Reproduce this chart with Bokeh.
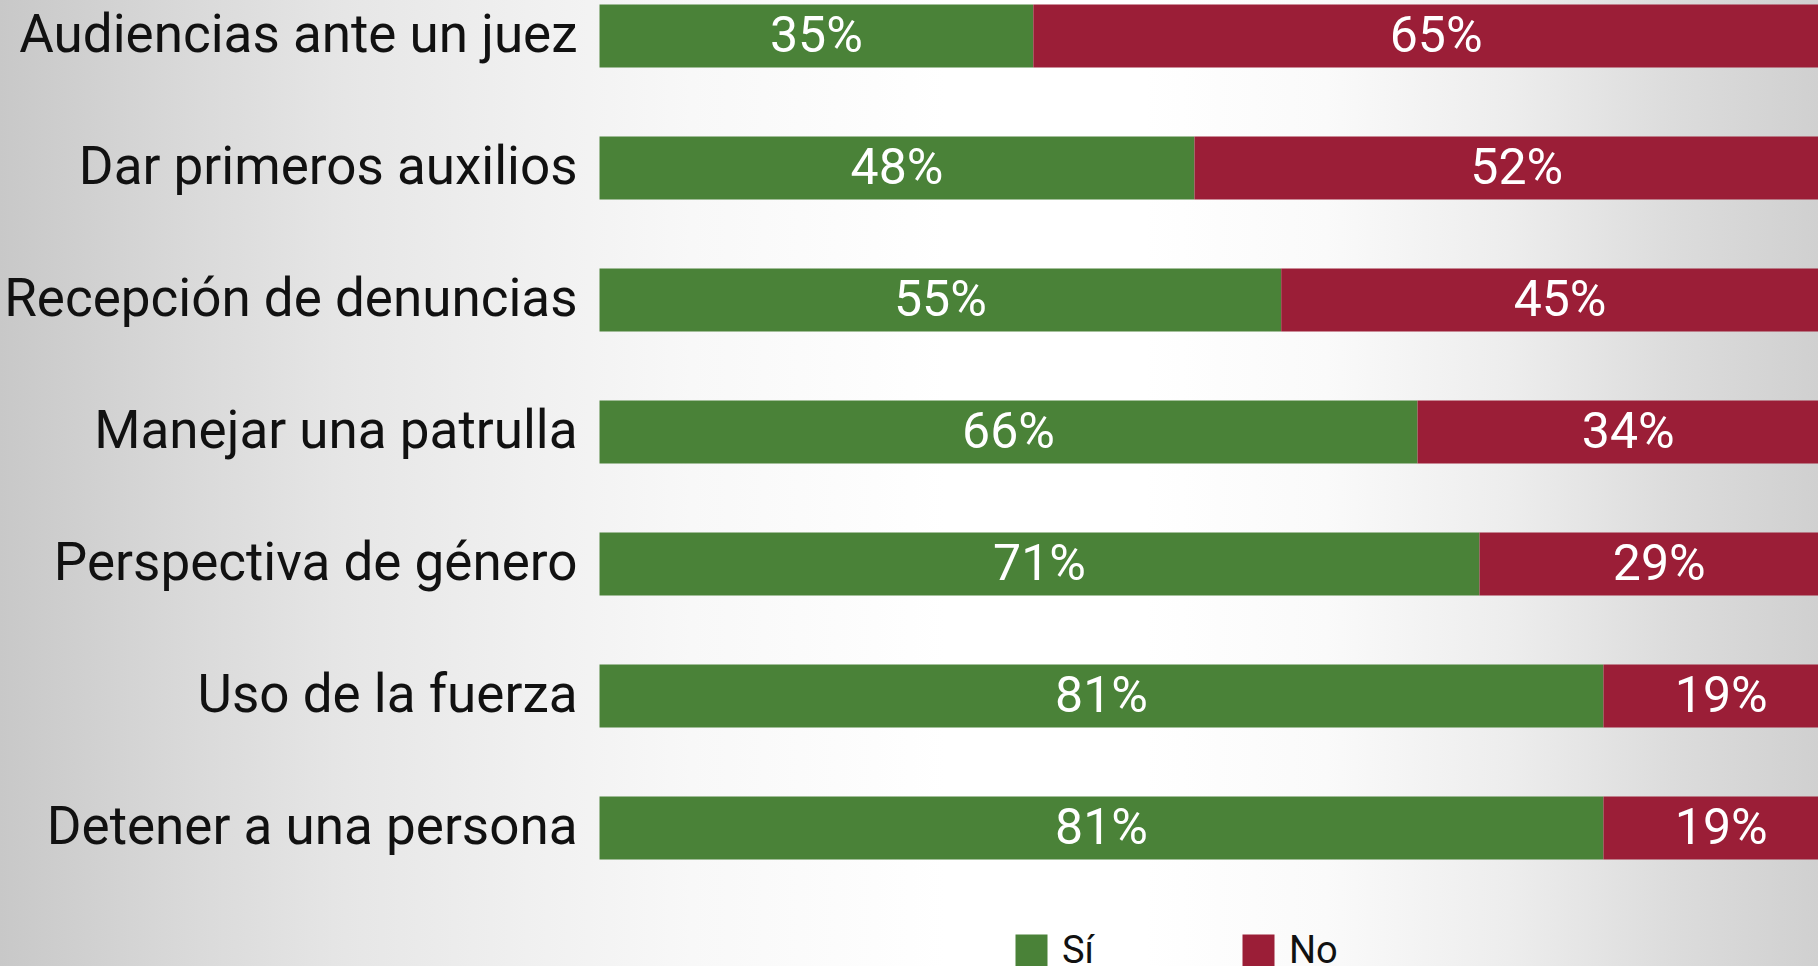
from bokeh.plotting import figure
from bokeh.models import ColumnDataSource, Range1d, Legend, LegendItem, GlobalInlineStyleSheet
from bokeh.core.properties import value
from bokeh.embed import file_html
from bokeh.resources import INLINE

# ---- data ----
categories = [
    "Audiencias ante un juez",
    "Dar primeros auxilios",
    "Recepción de denuncias",
    "Manejar una patrulla",
    "Perspectiva de género",
    "Uso de la fuerza",
    "Detener a una persona",
]
si_values = [35, 48, 55, 66, 71, 81, 81]
no_values = [65, 52, 45, 34, 29, 19, 19]
series_names = ["Sí", "No"]

GREEN = "#4a8238"
RED = "#9b1e37"
FONT = "Roboto"

pos = list(range(len(categories)))
src = ColumnDataSource(dict(
    y=pos,
    cat=categories,
    si_end=si_values,
    no_end=[s + n for s, n in zip(si_values, no_values)],
    zero=[0] * len(pos),
    si_mid=[s / 2 for s in si_values],
    no_mid=[s + n / 2 for s, n in zip(si_values, no_values)],
    si_lbl=[f"{s}%" for s in si_values],
    no_lbl=[f"{n}%" for n in no_values],
))

W, H = 1818, 966
p = figure(width=W, height=H, output_backend="svg", toolbar_location=None,
           x_axis_location=None, y_axis_location=None,
           x_range=Range1d(-48.33, 98.35), y_range=Range1d(7.049, -0.2689),
           min_border=0, outline_line_color=None,
           background_fill_alpha=0, border_fill_alpha=0)
p.grid.visible = False

r_si = p.hbar(y="y", left="zero", right="si_end", height=0.477, source=src,
              fill_color=GREEN, line_color=None)
r_no = p.hbar(y="y", left="si_end", right="no_end", height=0.477, source=src,
              fill_color=RED, line_color=None)

p.text(x="zero", y="y", text="cat", source=src, x_offset=-22, y_offset=-2,
       text_align="right", text_baseline="middle",
       text_font=value(FONT), text_font_size="53px", text_color="#111111")
p.text(x="si_mid", y="y", text="si_lbl", source=src, y_offset=-1,
       text_align="center", text_baseline="middle",
       text_font=value(FONT), text_font_size="50px", text_color="white")
p.text(x="no_mid", y="y", text="no_lbl", source=src, y_offset=-1,
       text_align="center", text_baseline="middle",
       text_font=value(FONT), text_font_size="50px", text_color="white")

legend = Legend(items=[LegendItem(label=series_names[0], renderers=[r_si]),
                       LegendItem(label=series_names[1], renderers=[r_no])],
                orientation="horizontal", location=(1011, -6),
                glyph_width=40, glyph_height=40, label_standoff=11,
                label_width=176, label_height=40, spacing=0, padding=0, margin=0,
                label_text_font=FONT, label_text_font_size="38px",
                label_text_color="#111111",
                background_fill_alpha=0, border_line_color=None)
p.add_layout(legend, "center")

p.stylesheets = [GlobalInlineStyleSheet(css="""
html, body { background: linear-gradient(to right,
  #c8c8c8 0%, #d8d8d8 9.6%, #e6e6e6 19%, #f0f0f0 29%, #f8f8f8 38%,
  #fdfdfd 48%, #ffffff 52%, #ffffff 63%, #fafafa 73%, #ededed 83%,
  #dcdcdc 92%, #d0d0d0 100%) fixed; }
""")]

open("out.html", "w").write(file_html(p, INLINE))
